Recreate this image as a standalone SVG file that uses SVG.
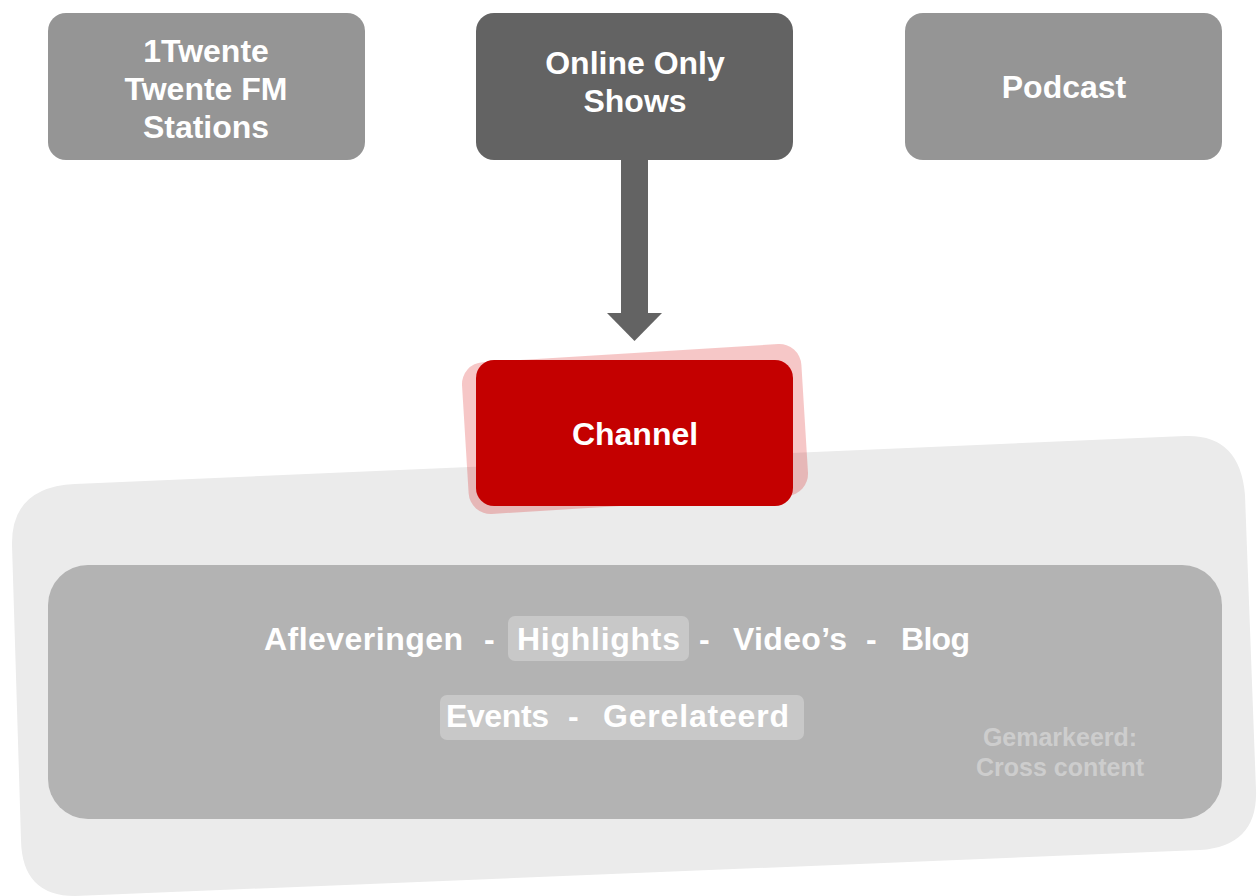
<svg xmlns="http://www.w3.org/2000/svg" width="1259" height="896" viewBox="0 0 1259 896">
<style>
.t{font-family:"Liberation Sans",Arial,sans-serif;font-weight:bold;fill:#ffffff;}
.top{font-size:32px;text-anchor:middle;}
.row{font-size:32px;}
.note{font-family:"Liberation Sans",Arial,sans-serif;font-weight:bold;font-size:25px;fill:#cdcdcd;text-anchor:middle;}
</style>
<rect width="1259" height="896" fill="#ffffff"/>
<g id="background">
<path d="M75,484 L1185,436 Q1240,434 1245,495 L1256,790 Q1258,846 1200,850 L75,896 Q22,896 21,840 L12,545 Q11,487 75,484 Z" fill="#ebebeb"/>
</g>
<g id="content-panel">
<rect x="48" y="565" width="1174" height="254" rx="40" fill="#b3b3b3"/>
<rect x="508" y="616" width="181" height="45" rx="7" fill="#c8c8c8"/>
<rect x="440" y="695" width="364" height="45" rx="7" fill="#c8c8c8"/>
<text class="t row" x="264" y="650" textLength="199">Afleveringen</text>
<text class="t row" x="484" y="650">-</text>
<text class="t row" x="517" y="650" textLength="163">Highlights</text>
<text class="t row" x="699" y="650">-</text>
<text class="t row" x="733" y="650" textLength="114">Video’s</text>
<text class="t row" x="866" y="650">-</text>
<text class="t row" x="901" y="650" textLength="69">Blog</text>
<text class="t row" x="446" y="727" textLength="103">Events</text>
<text class="t row" x="568" y="727">-</text>
<text class="t row" x="603" y="727" textLength="186">Gerelateerd</text>
<text class="note" x="1060" y="746">Gemarkeerd:</text>
<text class="note" x="1060" y="776">Cross content</text>
</g>
<g id="node-stations">
<rect x="48" y="13" width="317" height="147" rx="18" fill="#959595"/>
<text class="t top" x="206" y="62">1Twente</text>
<text class="t top" x="206" y="100">Twente FM</text>
<text class="t top" x="206" y="138">Stations</text>
</g>
<g id="node-online">
<rect x="476" y="13" width="317" height="147" rx="18" fill="#636363"/>
<text class="t top" x="635" y="74">Online Only</text>
<text class="t top" x="635" y="112">Shows</text>
</g>
<g id="node-podcast">
<rect x="905" y="13" width="317" height="147" rx="18" fill="#959595"/>
<text class="t top" x="1064" y="98">Podcast</text>
</g>
<g id="connectors">
<rect x="621" y="159" width="27" height="155" fill="#636363"/>
<path d="M607,313 L662,313 L634.5,341 Z" fill="#636363"/>
</g>
<g id="node-channel">
<rect x="465" y="353" width="340" height="152" rx="22" fill="#d40000" fill-opacity="0.22" transform="rotate(-3.5 635 429)"/>
<rect x="476" y="360" width="317" height="146" rx="18" fill="#c40000"/>
<text class="t top" x="635" y="445">Channel</text>
</g>
</svg>
